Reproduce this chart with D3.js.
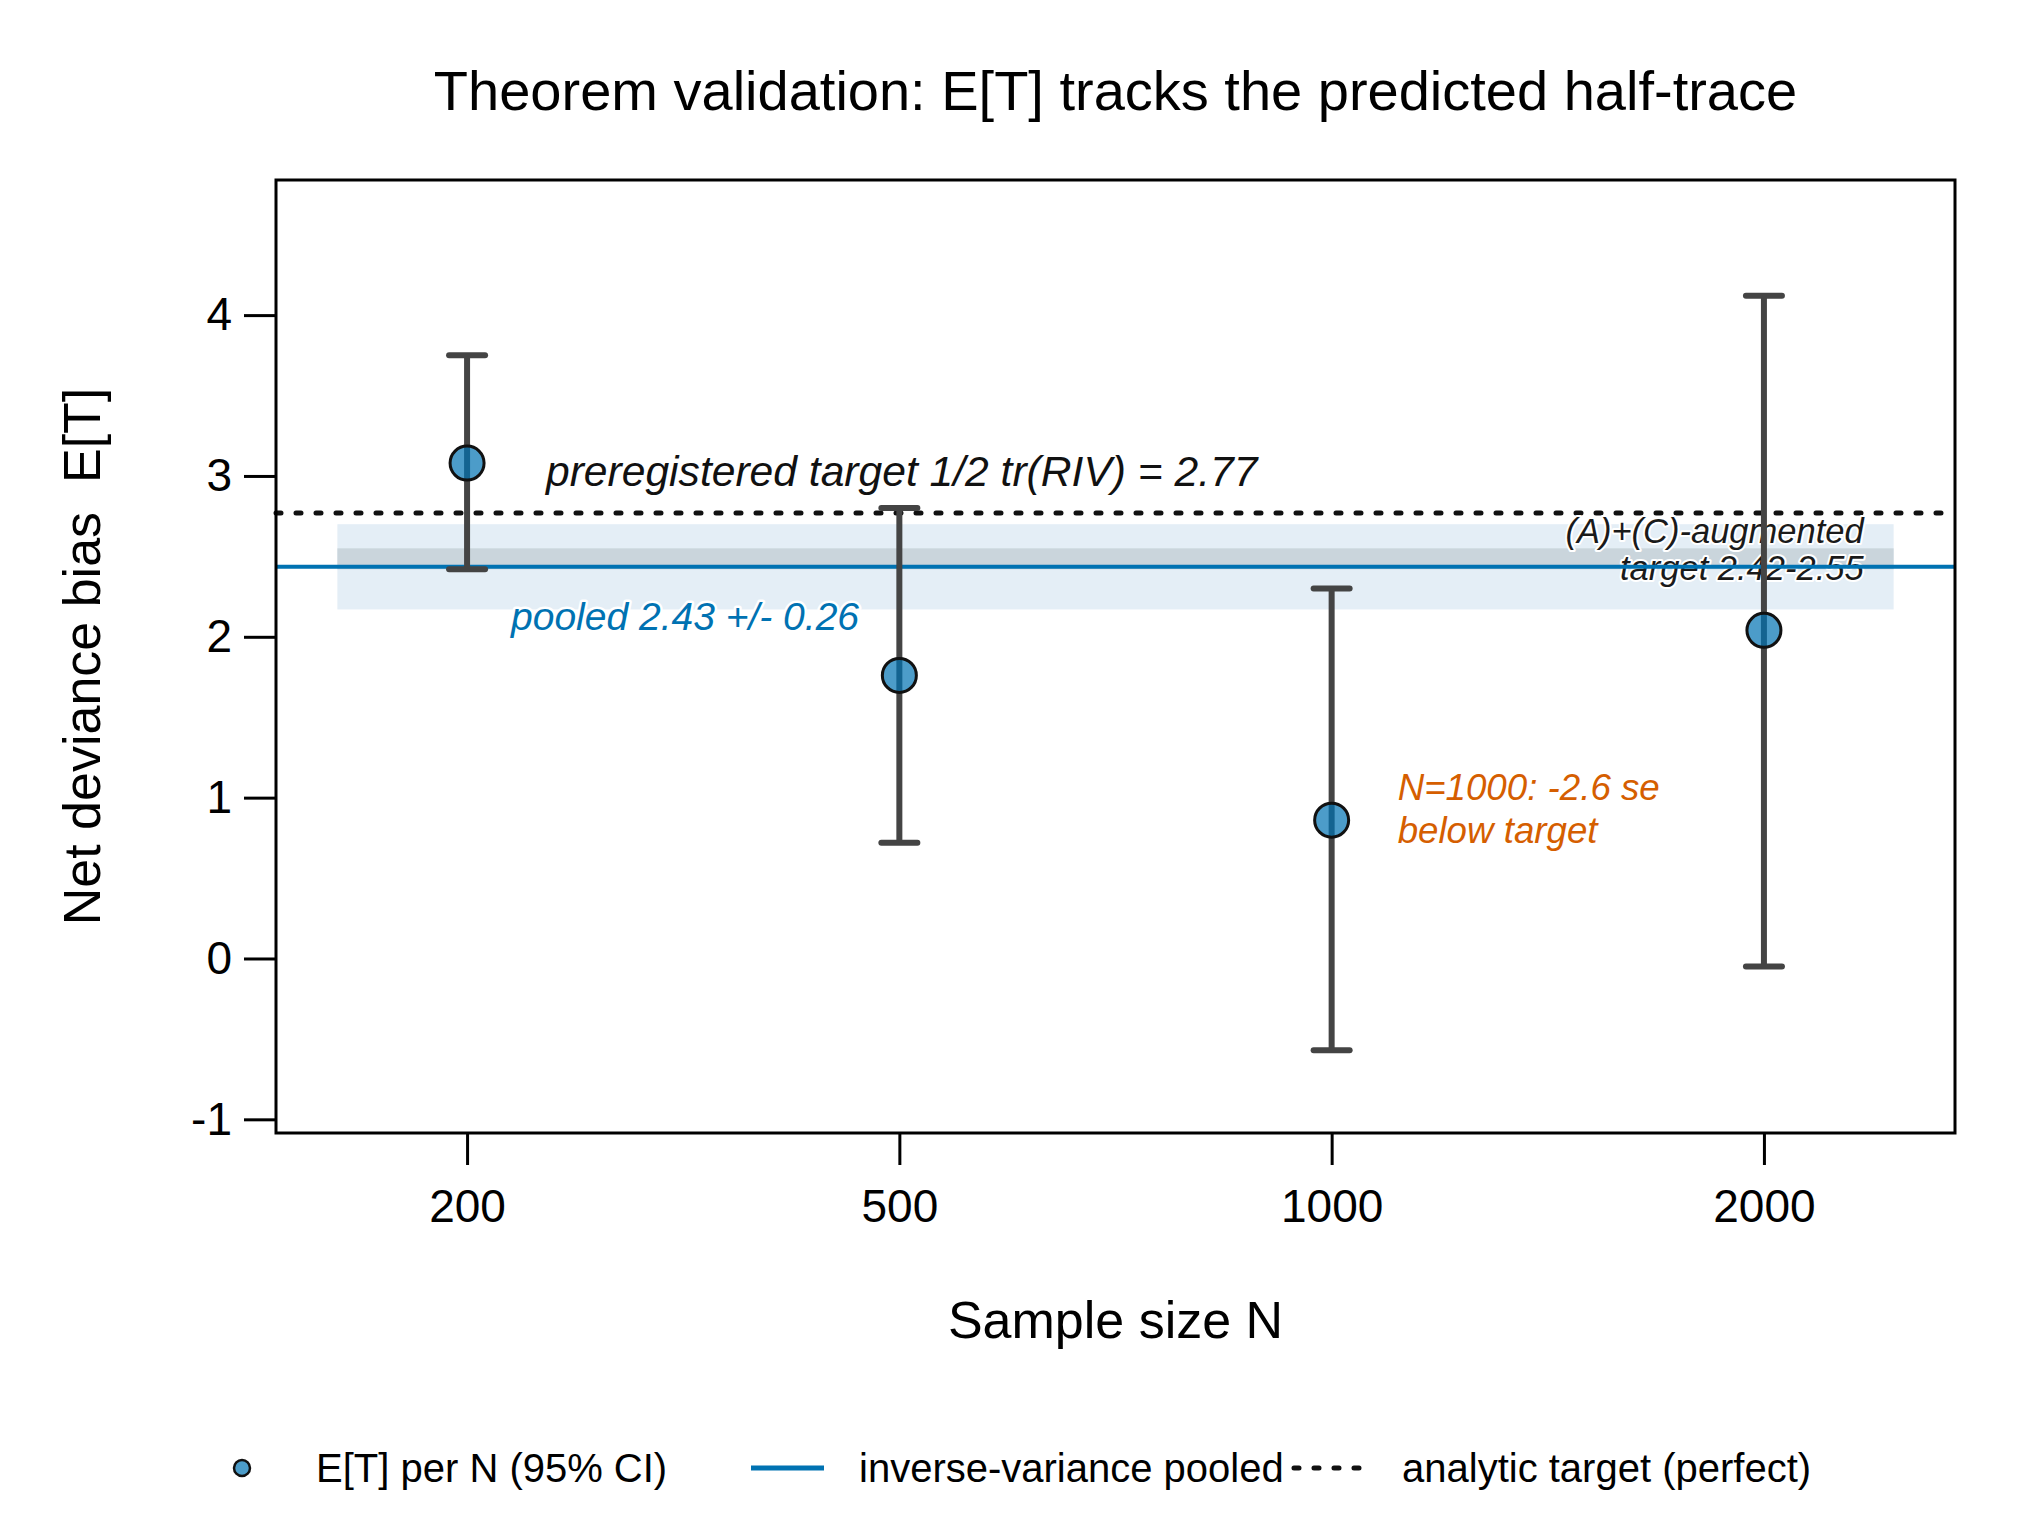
<!DOCTYPE html>
<html>
<head>
<meta charset="utf-8">
<script src="https://cdn.jsdelivr.net/npm/d3@7"></script>
<style>
  html, body { margin: 0; padding: 0; background: #ffffff; }
  svg { display: block; }
  text { font-family: "Liberation Sans", Arial, sans-serif; }
</style>
</head>
<body>
<svg id="chart" width="2040" height="1530"></svg>
<script>
// ---------------- data ----------------
const categories = ["200", "500", "1000", "2000"];
const estimates  = [3.08, 1.76, 0.86, 2.04];
const ciLower    = [2.42, 0.72, -0.57, -0.05];
const ciUpper    = [3.75, 2.80, 2.30, 4.12];
const pooledValue = [2.435];
const pooledBand  = [2.17, 2.70];
const augmentedBand = [2.42, 2.55];
const targetValue = [2.77];
const yTicks = [-1, 0, 1, 2, 3, 4];
const bandExtent = [0.7, 4.3];

const titleText = "Theorem validation: E[T] tracks the predicted half-trace";
const xTitle = "Sample size N";
const yTitle = "Net deviance bias  E[T]";
const legendLabels = ["E[T] per N (95% CI)", "inverse-variance pooled", "analytic target (perfect)"];

// ---------------- layout ----------------
const svg = d3.select("#chart");
const plot = { left: 276, right: 1955, top: 180, bottom: 1133 };
const blue = "#0072B2";
const orange = "#D55E00";
const barColor = "#444444";

const x = d3.scaleLinear().domain([0.558, 4.442]).range([plot.left, plot.right]);
const y = d3.scaleLinear().domain([-1.085, 4.84]).range([plot.bottom, plot.top]);

const data = categories.map((c, i) => ({ c, i: i + 1, est: estimates[i], lo: ciLower[i], hi: ciUpper[i] }));

// bands
svg.append("rect")
  .attr("x", x(bandExtent[0])).attr("width", x(bandExtent[1]) - x(bandExtent[0]))
  .attr("y", y(pooledBand[1])).attr("height", y(pooledBand[0]) - y(pooledBand[1]))
  .attr("fill", "#e4eef6");
svg.append("rect")
  .attr("x", x(bandExtent[0])).attr("width", x(bandExtent[1]) - x(bandExtent[0]))
  .attr("y", y(augmentedBand[1])).attr("height", y(augmentedBand[0]) - y(augmentedBand[1]))
  .attr("fill", "#cad5dc");

// dotted analytic target line
svg.append("line")
  .attr("x1", plot.left).attr("x2", plot.right)
  .attr("y1", y(targetValue[0])).attr("y2", y(targetValue[0]))
  .attr("stroke", "#111").attr("stroke-width", 5)
  .attr("stroke-dasharray", "5 15").attr("stroke-linecap", "round");

// annotation with halo helper
function haloText(g, opts) {
  return g.append("text")
    .attr("x", opts.x).attr("y", opts.y)
    .attr("font-size", opts.size).attr("font-style", "italic")
    .attr("text-anchor", opts.anchor || "start")
    .attr("fill", opts.color)
    .attr("stroke", "#ffffff").attr("stroke-width", opts.halo || 5)
    .attr("stroke-linejoin", "round")
    .attr("paint-order", "stroke")
    .text(opts.text);
}

const ann = svg.append("g");
haloText(ann, { x: x(4.3) - 30, y: y(2.77) + 30, size: 34.5, anchor: "end", color: "#1a1a1a", text: "(A)+(C)-augmented", halo: 4 });
haloText(ann, { x: x(4.3) - 30, y: y(2.77) + 67, size: 34.5, anchor: "end", color: "#1a1a1a", text: "target 2.42-2.55", halo: 4 });

// pooled line
svg.append("line")
  .attr("x1", plot.left).attr("x2", plot.right)
  .attr("y1", y(pooledValue[0])).attr("y2", y(pooledValue[0]))
  .attr("stroke", blue).attr("stroke-width", 4);

haloText(svg, { x: 546, y: y(targetValue[0]) - 27, size: 42.6, color: "#111", text: "preregistered target 1/2 tr(RIV) = 2.77", halo: 5 });
haloText(svg, { x: 511, y: y(pooledValue[0]) + 63, size: 39, color: blue, text: "pooled 2.43 +/- 0.26", halo: 5 });
haloText(svg, { x: x(3) + 66, y: y(estimates[2]) - 20, size: 36.7, color: orange, text: "N=1000: -2.6 se", halo: 4 });
haloText(svg, { x: x(3) + 66, y: y(estimates[2]) + 23, size: 36.7, color: orange, text: "below target", halo: 4 });

// error bars
const eb = svg.append("g").attr("stroke", barColor).attr("stroke-width", 6).attr("stroke-linecap", "round");
eb.selectAll("line.v").data(data).join("line").attr("class", "v")
  .attr("x1", d => x(d.i)).attr("x2", d => x(d.i))
  .attr("y1", d => y(d.lo)).attr("y2", d => y(d.hi)).attr("stroke-linecap", "butt");
eb.selectAll("line.capHi").data(data).join("line").attr("class", "capHi")
  .attr("x1", d => x(d.i) - 18).attr("x2", d => x(d.i) + 18)
  .attr("y1", d => y(d.hi)).attr("y2", d => y(d.hi));
eb.selectAll("line.capLo").data(data).join("line").attr("class", "capLo")
  .attr("x1", d => x(d.i) - 18).attr("x2", d => x(d.i) + 18)
  .attr("y1", d => y(d.lo)).attr("y2", d => y(d.lo));

// points
svg.append("g").selectAll("circle").data(data).join("circle")
  .attr("cx", d => x(d.i)).attr("cy", d => y(d.est)).attr("r", 17)
  .attr("fill", blue).attr("fill-opacity", 0.7)
  .attr("stroke", "#111").attr("stroke-width", 3);

// box
svg.append("rect")
  .attr("x", plot.left).attr("y", plot.top)
  .attr("width", plot.right - plot.left).attr("height", plot.bottom - plot.top)
  .attr("fill", "none").attr("stroke", "#000").attr("stroke-width", 3);

// y axis
const yAxis = d3.axisLeft(y).tickValues(yTicks).tickSize(32).tickPadding(12).tickFormat(d3.format("d"));
const gy = svg.append("g").attr("transform", `translate(${plot.left},0)`).call(yAxis);
gy.select(".domain").remove();
gy.selectAll(".tick line").attr("stroke", "#000").attr("stroke-width", 3);
gy.selectAll(".tick text").attr("font-size", 46).attr("fill", "#000")
  .attr("font-family", "'Liberation Sans', Arial, sans-serif").text(d => d < 0 ? "-" + Math.abs(d) : d);

// x axis
const xAxis = d3.axisBottom(x).tickValues(data.map(d => d.i)).tickSize(32).tickPadding(24)
  .tickFormat((d, i) => categories[i]);
const gx = svg.append("g").attr("transform", `translate(0,${plot.bottom})`).call(xAxis);
gx.select(".domain").remove();
gx.selectAll(".tick line").attr("stroke", "#000").attr("stroke-width", 3);
gx.selectAll(".tick text").attr("font-size", 46).attr("fill", "#000")
  .attr("font-family", "'Liberation Sans', Arial, sans-serif");

// titles
svg.append("text").attr("x", (plot.left + plot.right) / 2).attr("y", 110)
  .attr("text-anchor", "middle").attr("font-size", 56).attr("fill", "#000").text(titleText);
svg.append("text").attr("x", (plot.left + plot.right) / 2).attr("y", 1338)
  .attr("text-anchor", "middle").attr("font-size", 52).attr("fill", "#000").text(xTitle);
svg.append("text").attr("transform", `translate(100,${(plot.top + plot.bottom) / 2}) rotate(-90)`)
  .attr("text-anchor", "middle").attr("font-size", 52).attr("fill", "#000")
  .attr("xml:space", "preserve").style("white-space", "pre").text(yTitle);

// legend
const ly = 1468;
const lg = svg.append("g");
lg.append("circle").attr("cx", 242).attr("cy", ly).attr("r", 8)
  .attr("fill", blue).attr("fill-opacity", 0.7).attr("stroke", "#111").attr("stroke-width", 2.5);
lg.append("line").attr("x1", 751).attr("x2", 824).attr("y1", ly).attr("y2", ly)
  .attr("stroke", blue).attr("stroke-width", 5);
lg.append("line").attr("x1", 1294).attr("x2", 1360).attr("y1", ly).attr("y2", ly)
  .attr("stroke", "#111").attr("stroke-width", 5).attr("stroke-dasharray", "5 15").attr("stroke-linecap", "round");
const lx = [316, 859, 1402];
legendLabels.forEach((t, i) => {
  lg.append("text").attr("x", lx[i]).attr("y", ly + 14).attr("font-size", 40).attr("fill", "#000").text(t);
});
</script>
</body>
</html>
